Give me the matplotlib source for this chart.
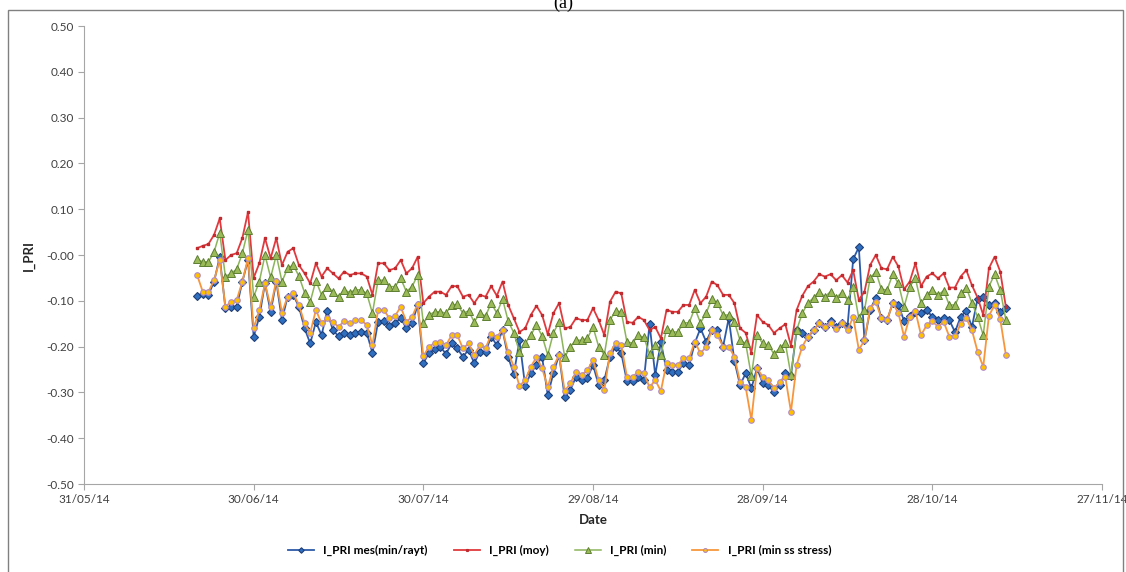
import numpy as np
import pandas as pd
import matplotlib
matplotlib.use("Agg")
import matplotlib.pyplot as plt
import matplotlib.dates as mdates
from matplotlib.patches import Rectangle

plt.rcParams['font.family'] = ['Lato', 'DejaVu Sans']
plt.rcParams['axes.unicode_minus'] = False

# daily series, 20/06/14 -> 10/11/14
dates = pd.date_range("2014-06-20", "2014-11-10", freq="D")

pri_mes = [
    -0.089, -0.085, -0.087, -0.058, -0.004, -0.116, -0.113, -0.113, -0.058, -0.011,
    -0.178, -0.135, -0.062, -0.124, -0.058, -0.142, -0.091, -0.087, -0.113, -0.160,
    -0.193, -0.146, -0.175,
    -0.122, -0.164, -0.177, -0.170, -0.175, -0.170, -0.168, -0.170, -0.214, -0.146,
    -0.144, -0.155, -0.149, -0.138, -0.160, -0.149, -0.109, -0.236, -0.214, -0.206,
    -0.200, -0.216, -0.193, -0.204,
    -0.222, -0.207, -0.236, -0.211, -0.211, -0.178, -0.197, -0.164, -0.223, -0.260,
    -0.186, -0.286, -0.258, -0.240, -0.223, -0.306, -0.258, -0.218, -0.311, -0.294,
    -0.266, -0.273, -0.269, -0.240,
    -0.284, -0.273, -0.222, -0.200, -0.214, -0.276, -0.276, -0.266, -0.273, -0.151,
    -0.262, -0.190, -0.252, -0.255, -0.255, -0.236, -0.240, -0.192, -0.160, -0.189,
    -0.163, -0.164, -0.200, -0.138,
    -0.231, -0.284, -0.258, -0.291, -0.247, -0.280, -0.284, -0.300, -0.284, -0.258,
    -0.264, -0.164, -0.170, -0.180, -0.164, -0.149, -0.157, -0.144, -0.157, -0.148,
    -0.157, -0.009, 0.017, -0.186,
    -0.120, -0.093, -0.138, -0.142, -0.105, -0.109, -0.144, -0.133, -0.124, -0.127,
    -0.120, -0.135, -0.142, -0.138, -0.142, -0.168, -0.135, -0.122, -0.157, -0.095,
    -0.091, -0.109, -0.105, -0.124, -0.116,
]

pri_moy = [
    0.015, 0.020, 0.024, 0.044, 0.080, -0.011, 0.000, 0.004, 0.037, 0.094,
    -0.050, -0.018, 0.037, -0.007, 0.037, -0.022, 0.007, 0.015, -0.022, -0.040,
    -0.062, -0.018, -0.047,
    -0.029, -0.040, -0.051, -0.036, -0.044, -0.040, -0.040, -0.047, -0.087, -0.018,
    -0.018, -0.033, -0.029, -0.011, -0.040, -0.029, -0.004, -0.105, -0.091, -0.080,
    -0.080, -0.087, -0.068, -0.068,
    -0.091, -0.087, -0.105, -0.087, -0.091, -0.068, -0.089, -0.058, -0.109, -0.138,
    -0.168, -0.160, -0.131, -0.111, -0.131, -0.173, -0.127, -0.105, -0.160, -0.157,
    -0.138, -0.142, -0.142, -0.116,
    -0.142, -0.175, -0.102, -0.080, -0.084, -0.146, -0.148, -0.135, -0.142, -0.164,
    -0.157, -0.182, -0.120, -0.124, -0.124, -0.109, -0.109, -0.076, -0.105, -0.091,
    -0.058, -0.066, -0.087, -0.087,
    -0.105, -0.160, -0.170, -0.214, -0.131, -0.146, -0.153, -0.170, -0.160, -0.151,
    -0.198, -0.120, -0.089, -0.068, -0.058, -0.042, -0.047, -0.042, -0.055, -0.044,
    -0.060, -0.033, -0.098, -0.080,
    -0.022, 0.000, -0.029, -0.031, -0.004, -0.025, -0.075, -0.058, -0.018, -0.068,
    -0.047, -0.040, -0.051, -0.040, -0.071, -0.071, -0.047, -0.033, -0.066, -0.093,
    -0.131, -0.029, -0.004, -0.036, -0.113,
]

pri_min = [
    -0.009, -0.015, -0.015, 0.007, 0.048, -0.047, -0.040, -0.031, 0.004, 0.055,
    -0.091, -0.058, 0.000, -0.049, 0.000, -0.058, -0.029, -0.022, -0.046, -0.082,
    -0.102, -0.056, -0.087,
    -0.069, -0.080, -0.091, -0.076, -0.082, -0.076, -0.076, -0.084, -0.127, -0.055,
    -0.055, -0.069, -0.069, -0.051, -0.080, -0.069, -0.044, -0.149, -0.131, -0.124,
    -0.124, -0.127, -0.109, -0.108,
    -0.127, -0.122, -0.146, -0.127, -0.133, -0.105, -0.127, -0.096, -0.144, -0.170,
    -0.212, -0.193, -0.175, -0.153, -0.177, -0.218, -0.170, -0.146, -0.223, -0.200,
    -0.186, -0.186, -0.182, -0.157,
    -0.200, -0.218, -0.142, -0.122, -0.124, -0.190, -0.192, -0.175, -0.180, -0.216,
    -0.197, -0.218, -0.162, -0.168, -0.168, -0.148, -0.148, -0.116, -0.148, -0.127,
    -0.096, -0.105, -0.131, -0.131,
    -0.146, -0.186, -0.193, -0.264, -0.175, -0.193, -0.197, -0.216, -0.204, -0.192,
    -0.262, -0.164, -0.127, -0.105, -0.093, -0.080, -0.091, -0.080, -0.093, -0.082,
    -0.098, -0.069, -0.138, -0.120,
    -0.051, -0.036, -0.075, -0.076, -0.042, -0.062, -0.113, -0.069, -0.051, -0.105,
    -0.087, -0.076, -0.087, -0.078, -0.109, -0.109, -0.084, -0.071, -0.105, -0.135,
    -0.175, -0.069, -0.042, -0.076, -0.142,
]

pri_min_ss = [
    -0.044, -0.080, -0.080, -0.055, -0.011, -0.113, -0.102, -0.098, -0.058, -0.007,
    -0.160, -0.120, -0.062, -0.113, -0.056, -0.126, -0.091, -0.084, -0.109, -0.149,
    -0.170, -0.120, -0.149,
    -0.138, -0.146, -0.157, -0.144, -0.149, -0.142, -0.142, -0.153, -0.197, -0.120,
    -0.120, -0.138, -0.133, -0.113, -0.146, -0.135, -0.107, -0.221, -0.200, -0.192,
    -0.190, -0.197, -0.175, -0.175,
    -0.204, -0.193, -0.218, -0.197, -0.204, -0.173, -0.178, -0.164, -0.212, -0.244,
    -0.286, -0.273, -0.244, -0.223, -0.247, -0.289, -0.244, -0.218, -0.297, -0.280,
    -0.255, -0.261, -0.252, -0.229,
    -0.273, -0.294, -0.214, -0.192, -0.197, -0.266, -0.266, -0.255, -0.258, -0.289,
    -0.273, -0.297, -0.236, -0.240, -0.240, -0.225, -0.225, -0.189, -0.215, -0.200,
    -0.164, -0.175, -0.200, -0.200,
    -0.222, -0.277, -0.289, -0.360, -0.247, -0.266, -0.273, -0.291, -0.278, -0.266,
    -0.342, -0.240, -0.200, -0.178, -0.164, -0.149, -0.158, -0.148, -0.162, -0.149,
    -0.164, -0.135, -0.207, -0.186,
    -0.116, -0.102, -0.138, -0.142, -0.105, -0.127, -0.178, -0.135, -0.122, -0.175,
    -0.153, -0.144, -0.157, -0.146, -0.178, -0.177, -0.151, -0.138, -0.164, -0.211,
    -0.244, -0.133, -0.109, -0.140, -0.218,
]

labels = ["I_PRI mes(min/rayt)", "I_PRI (moy)", "I_PRI (min)", "I_PRI (min ss stress)"]
tick_dates = pd.date_range("2014-05-31", periods=7, freq="30D")

fig = plt.figure(figsize=(11.26, 5.72), dpi=100)
ax = fig.add_axes([0.0746, 0.1538, 0.9041, 0.8007])

ax.plot(dates, pri_mes, color='#2D5AA8', lw=1.3, marker='D', ms=4,
        mfc='#2F6FC0', mec='#1F3F7A', mew=0.8, label=labels[0])
ax.plot(dates, pri_moy, color='#E03A3E', lw=1.3, marker='s', ms=1.8,
        mfc='#E03A3E', mec='#C02A2E', label=labels[1])
ax.plot(dates, pri_min, color='#8CB45A', lw=1.1, marker='^', ms=5.5,
        mfc='#9BBB59', mec='#5E7F32', mew=0.7, label=labels[2])
ax.plot(dates, pri_min_ss, color='#F7963C', lw=1.3, marker='o', ms=4,
        mfc='#FFC000', mec='#B08ACB', mew=0.8, label=labels[3])

ax.set_xlim(tick_dates[0], tick_dates[-1])
ax.set_xticks(tick_dates)
ax.xaxis.set_major_formatter(mdates.DateFormatter('%d/%m/%y'))
ax.set_ylim(-0.5, 0.5)
ax.set_yticks(np.arange(-0.5, 0.501, 0.1))
ax.yaxis.set_major_formatter(plt.FormatStrFormatter('%.2f'))

for s in ['top', 'right']:
    ax.spines[s].set_visible(False)
for s in ['left', 'bottom']:
    ax.spines[s].set_color('#A6A6A6')
ax.tick_params(colors='#A6A6A6', labelcolor='#404040', labelsize=8.5, length=4)

ax.set_xlabel('Date', fontsize=9.5, fontweight='bold', color='#262626', labelpad=6)
ax.set_ylabel('I_PRI', fontsize=9.5, fontweight='bold', color='#262626', labelpad=8)

fig.legend(*ax.get_legend_handles_labels(), loc='center', bbox_to_anchor=(0.497, 0.037),
           ncol=4, frameon=False, handlelength=2.2, columnspacing=2.2,
           markerscale=0.7, borderaxespad=0,
           prop={'size': 8.5, 'weight': 'bold'})

# outer chart frame and the cut caption
fig.add_artist(Rectangle((0.007, -0.01), 0.99, 0.992, transform=fig.transFigure,
                         fill=False, edgecolor='#808080', lw=1.0))
fig.text(0.5, 0.995, '(a)', ha='center', va='center', fontsize=13, family='Liberation Serif')

fig.savefig('out.png', dpi=100)
